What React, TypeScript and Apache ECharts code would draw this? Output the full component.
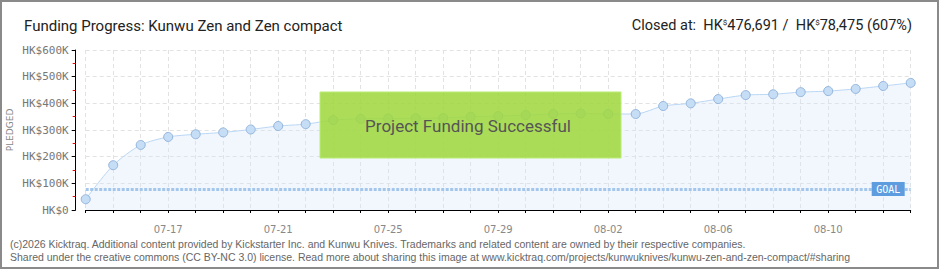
import React, { useEffect, useRef } from "react";
import * as echarts from "echarts";

const titleText = "Funding Progress: Kunwu Zen and Zen compact";
const pledgedTotal = "476,691";
const goalText = "78,475";
const percentText = "607%";
const goalValue = 78475;

const dates = [
  "07-14", "07-15", "07-16", "07-17", "07-18", "07-19", "07-20", "07-21",
  "07-22", "07-23", "07-24", "07-25", "07-26", "07-27", "07-28", "07-29",
  "07-30", "07-31", "08-01", "08-02", "08-03", "08-04", "08-05", "08-06",
  "08-07", "08-08", "08-09", "08-10", "08-11", "08-12", "08-13",
];

const pledged = [
  40500, 168000, 244000, 274000, 284000, 291000, 302000, 315000,
  322000, 337000, 342000, 343000, 344000, 345000, 350000, 352000,
  356000, 360000, 362000, 360000, 360000, 390000, 400000, 416000,
  431000, 434000, 442000, 446000, 454000, 465000, 476691,
];

const yTicks = [0, 100000, 200000, 300000, 400000, 500000, 600000];

const footer1 =
  "(c)2026 Kicktraq. Additional content provided by Kickstarter Inc. and Kunwu Knives. Trademarks and related content are owned by their respective companies.";
const footer2 =
  "Shared under the creative commons (CC BY-NC 3.0) license. Read more about sharing this image at www.kicktraq.com/projects/kunwuknives/kunwu-zen-and-zen-compact/#sharing";

export default function App() {
  const ref = useRef<HTMLDivElement>(null);
  useEffect(() => {
    if (!ref.current) return;
    const chart = echarts.init(ref.current, undefined, { renderer: "svg" });
    const fmt = (v: number) => (v === 0 ? "HK$0" : `HK$${v / 1000}K`);
    chart.setOption({
      animation: false,
      backgroundColor: "#fff",
      title: [
        {
          text: titleText,
          left: 19,
          top: 13,
          textStyle: { fontFamily: "Roboto", fontSize: 15, fontWeight: "normal", color: "#222" },
        },
        {
          text: `Closed at:  HK{s|$}${pledgedTotal} /  HK{s|$}${goalText} (${percentText})`,
          right: 23,
          top: 13,
          textStyle: {
            fontFamily: "Roboto",
            fontSize: 14.5,
            fontWeight: "normal",
            color: "#222",
            rich: {
              s: { fontFamily: "Roboto", fontSize: 8, color: "#222", verticalAlign: "top", padding: [0, 0, 6, 0] },
            },
          },
        },
      ],
      grid: { left: 85.7, right: 29.3, top: 50, bottom: 60, containLabel: false, outerBoundsMode: "none" },
      xAxis: {
        type: "category",
        data: dates,
        boundaryGap: false,
        offset: 10,
        axisLine: { show: true, lineStyle: { color: "#000", width: 1 } },
        axisTick: { show: true, interval: 0, length: 3, lineStyle: { color: "#000" } },
        axisLabel: {
          interval: (i: number) => i % 4 === 3,
          fontFamily: "DejaVu Sans",
          fontSize: 10,
          color: "#888",
          margin: 4,
        },
        splitLine: { show: true, interval: 0, lineStyle: { color: "#e2e2e2", type: [4, 3] } },
      },
      yAxis: {
        type: "value",
        min: 0,
        max: 600000,
        interval: 100000,
        offset: 10,
        name: "PLEDGED",
        nameLocation: "middle",
        nameRotate: 90,
        nameGap: 61,
        nameMoveOverlap: false,
        nameTextStyle: { fontFamily: "DejaVu Sans", fontSize: 9, color: "#888" },
        axisLine: { show: true, lineStyle: { color: "#000", width: 1 } },
        axisTick: { show: true, length: 4, lineStyle: { color: "#000" } },
        minorTick: { show: true, splitNumber: 2, length: 3, lineStyle: { color: "#e00" } },
        axisLabel: {
          formatter: (v: number) => fmt(v),
          customValues: yTicks,
          fontFamily: "DejaVu Sans Mono",
          fontSize: 11,
          color: "#777",
          margin: 7,
        },
        splitLine: { show: true, lineStyle: { color: "#e2e2e2", type: [4, 3] } },
      },
      series: [
        {
          type: "line",
          data: pledged,
          smooth: 0.25,
          symbol: "circle",
          symbolSize: 9,
          lineStyle: { color: "#b9d6f4", width: 1 },
          itemStyle: { color: "#c6ddf6", borderColor: "#94b5dc", borderWidth: 1 },
          areaStyle: { color: "rgba(214,230,248,0.45)" },
          markLine: {
            silent: true,
            symbol: "none",
            label: { show: false },
            lineStyle: { color: "#a3c6ec", width: 3, type: [3, 1.5] },
            data: [{ yAxis: goalValue }],
          },
          markPoint: {
            silent: true,
            symbol: "rect",
            symbolSize: [33, 14],
            symbolOffset: [5, 0],
            itemStyle: { color: "#5d9ddf" },
            label: {
              show: true,
              formatter: "GOAL",
              color: "#fff",
              fontFamily: "DejaVu Sans Mono",
              fontSize: 10,
            },
            data: [{ coord: [29, goalValue] }],
          },
          z: 3,
        },
      ],
      graphic: [
        {
          type: "rect",
          shape: { x: 320, y: 92, width: 301, height: 66 },
          style: { fill: "rgba(160,215,60,0.86)", stroke: "#b9ec74", lineWidth: 1 },
          z: 10,
        },
        {
          type: "text",
          x: 468,
          y: 126,
          style: {
            text: "Project Funding Successful",
            fontFamily: "Roboto",
            fontSize: 17,
            fill: "#555",
            align: "center",
            verticalAlign: "middle",
            textShadowColor: "#fff",
            textShadowOffsetX: 1,
            textShadowOffsetY: 1,
            textShadowBlur: 0,
          },
          z: 11,
        },
        {
          type: "text",
          x: 10,
          y: 244,
          style: { text: footer1, fontFamily: "Liberation Sans", fontSize: 10.5, fill: "#666", verticalAlign: "middle" },
        },
        {
          type: "text",
          x: 10,
          y: 257,
          style: { text: footer2, fontFamily: "Liberation Sans", fontSize: 10.5, fill: "#666", verticalAlign: "middle" },
        },
        {
          type: "rect",
          shape: { x: 1, y: 1, width: 937, height: 267 },
          style: { fill: "none", stroke: "#8a8a8a", lineWidth: 2 },
          z: 20,
        },
      ],
    });
    return () => chart.dispose();
  }, []);
  return <div ref={ref} style={{ width: 940, height: 270, position: "absolute", left: 0, top: 0 }} />;
}
